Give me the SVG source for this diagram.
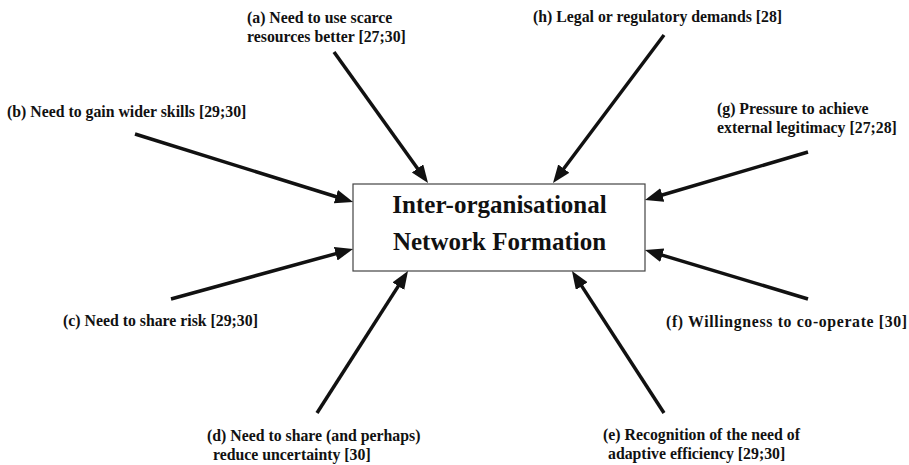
<svg xmlns="http://www.w3.org/2000/svg" width="909" height="465" viewBox="0 0 909 465">
<style>
.lbl{font-family:"Liberation Serif","Times New Roman",serif;font-weight:bold;font-size:15.8px;fill:#111;}
.title{font-family:"Liberation Serif","Times New Roman",serif;font-weight:bold;font-size:25px;fill:#111;text-anchor:middle;}
.box{fill:#fff;stroke:#444;stroke-width:1.2;}
.arr{stroke:#111;stroke-width:3.5;fill:none;marker-end:url(#ah);}
</style>
<defs>
<marker id="ah" markerUnits="userSpaceOnUse" markerWidth="20" markerHeight="16" refX="8" refY="7" orient="auto">
<path d="M0,0 L18,7 L0,14 z" fill="#111"/>
</marker>
</defs>
<rect width="909" height="465" fill="#fff"/>
<g id="center">
<rect class="box" x="353" y="184" width="292" height="87"/>
<text class="title" x="499.5" y="213">Inter-organisational</text>
<text class="title" x="499.5" y="250">Network Formation</text>
</g>
<g id="connectors">
<line class="arr" x1="334" y1="52" x2="422.2" y2="174.9"/>
<line class="arr" x1="664" y1="35" x2="559" y2="175"/>
<line class="arr" x1="135" y1="134" x2="343.5" y2="199"/>
<line class="arr" x1="808" y1="152" x2="654.6" y2="197.2"/>
<line class="arr" x1="171" y1="299" x2="343.4" y2="251.6"/>
<line class="arr" x1="808" y1="299" x2="654.6" y2="252.9"/>
<line class="arr" x1="317" y1="413" x2="402.6" y2="279.4"/>
<line class="arr" x1="664" y1="413" x2="577.4" y2="279.4"/>
</g>
<g id="a"><text class="lbl" x="247" y="23">(a) Need to use scarce</text><text class="lbl" x="247" y="42">resources better [27;30]</text></g>
<g id="h"><text class="lbl" x="533" y="22">(h) Legal or regulatory demands [28]</text></g>
<g id="b"><text class="lbl" x="7" y="117">(b) Need to gain wider skills [29;30]</text></g>
<g id="g"><text class="lbl" x="717" y="114">(g) Pressure to achieve</text><text class="lbl" x="717" y="133">external legitimacy [27;28]</text></g>
<g id="c"><text class="lbl" x="63" y="326">(c) Need to share risk [29;30]</text></g>
<g id="f"><text class="lbl" x="666" y="327" letter-spacing="0.65">(f) Willingness to co-operate [30]</text></g>
<g id="d"><text class="lbl" x="207" y="441">(d) Need to share (and perhaps)</text><text class="lbl" x="213" y="460">reduce uncertainty [30]</text></g>
<g id="e"><text class="lbl" x="603" y="440">(e) Recognition of the need of</text><text class="lbl" x="608" y="459">adaptive efficiency [29;30]</text></g>
</svg>
